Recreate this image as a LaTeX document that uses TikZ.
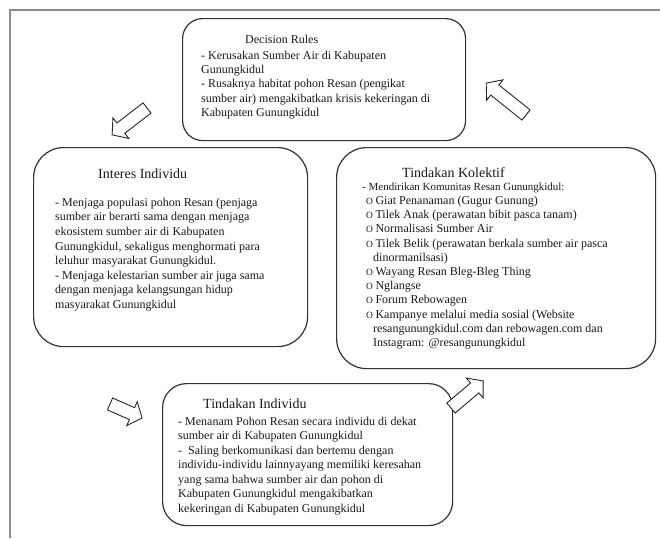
\documentclass[tikz,border=0pt]{standalone}
\usepackage{fontspec}
\setmainfont{Liberation Serif}
\newcommand{\bul}{{\fontsize{9.5}{10}\selectfont O}\hspace{2.5pt}}
\begin{document}
\begin{tikzpicture}[x=1pt,y=-1pt,
  frame/.style={draw=black!45, line width=2pt},
  box/.style={draw=black!80, line width=1.2pt, inner sep=0pt, anchor=north west},
  body/.style={anchor=north west, inner sep=0pt, align=left, text=black!90},
  ttl/.style={anchor=base west, inner sep=0pt, text=black!90, font=\fontsize{14}{16}\selectfont},
  blockarrow/.style={draw=black!85, fill=white, line width=0.9pt, line join=miter},
  barrow/.pic={\draw[blockarrow] (0,-6.5) -- (#1-11,-6.5) -- (#1-11,-13) -- (#1,0) -- (#1-11,13) -- (#1-11,6.5) -- (0,6.5) -- cycle;}]
\useasboundingbox (0,0) rectangle (660,538);
\fill[white] (0,0) rectangle (660,538);
\draw[frame] (10,538) -- (10,10) -- (661,10);

% boxes
\node[box, rounded corners=20pt, minimum width=283pt, minimum height=122pt] (dr) at (182,18) {};
\node[box, rounded corners=30pt, minimum width=274pt, minimum height=199pt] (ii) at (33,147) {};
\node[box, rounded corners=30pt, minimum width=319pt, minimum height=221pt] (tk) at (336,147) {};
\node[box, rounded corners=24pt, minimum width=290pt, minimum height=142pt] (ti) at (162,383) {};

% Decision Rules
\node[ttl, font=\fontsize{12}{14}\selectfont] (drt) at (245,43) {Decision Rules};
\node[body, font=\fontsize{12}{14.3}\selectfont] (drb) at (201,50) {\rule{0pt}{9pt}- Kerusakan Sumber Air di Kabupaten\\
Gunungkidul\\
- Rusaknya habitat pohon Resan (pengikat\\
sumber air) mengakibatkan krisis kekeringan di\\
Kabupaten Gunungkidul};

% Interes Individu
\node[ttl] (iit) at (98,178) {Interes Individu};
\node[body, font=\fontsize{12}{14.6}\selectfont] (iib) at (55,197) {\rule{0pt}{9pt}- Menjaga populasi pohon Resan (penjaga\\
sumber air berarti sama dengan menjaga\\
ekosistem sumber air di Kabupaten\\
Gunungkidul, sekaligus menghormati para\\
leluhur masyarakat Gunungkidul.\\
- Menjaga kelestarian sumber air juga sama\\
dengan menjaga kelangsungan hidup\\
masyarakat Gunungkidul};

% Tindakan Kolektif
\node[ttl] (tkt) at (402,177) {Tindakan Kolektif};
\node[body, font=\fontsize{12}{14.2}\selectfont] (tkb) at (362,181) {\rule{0pt}{9pt}{\fontsize{11}{12}\selectfont - Mendirikan Komunitas Resan Gunungkidul:}\\
\hspace*{4pt}\bul Giat Penanaman (Gugur Gunung)\\
\hspace*{4pt}\bul Tilek Anak (perawatan bibit pasca tanam)\\
\hspace*{4pt}\bul Normalisasi Sumber Air\\
\hspace*{4pt}\bul Tilek Belik (perawatan berkala sumber air pasca\\
\hspace*{11pt}dinormanilsasi)\\
\hspace*{4pt}\bul Wayang Resan Bleg-Bleg Thing\\
\hspace*{4pt}\bul Nglangse\\
\hspace*{4pt}\bul Forum Rebowagen\\
\hspace*{4pt}\bul Kampanye melalui media sosial (Website\\
\hspace*{11pt}resangunungkidul.com dan rebowagen.com dan\\
\hspace*{11pt}Instagram: @resangunungkidul};

% Tindakan Individu
\node[ttl] (tit) at (203,408) {Tindakan Individu};
\node[body, font=\fontsize{12}{14.5}\selectfont] (tib) at (178,416) {\rule{0pt}{9pt}- Menanam Pohon Resan secara individu di dekat\\
sumber air di Kabupaten Gunungkidul\\
-\ \ Saling berkomunikasi dan bertemu dengan\\
individu-individu lainnyayang memiliki keresahan\\
yang sama bahwa sumber air dan pohon di\\
Kabupaten Gunungkidul mengakibatkan\\
kekeringan di Kabupaten Gunungkidul};

% block arrows
\pic[rotate=217.6] at (147,108) {barrow=44};
\pic[rotate=141.3] at (526,115) {barrow=51};
\pic[rotate=-23.6] at (110,404) {barrow=35};
\pic[rotate=40.2] at (451,408) {barrow=42};
\end{tikzpicture}
\end{document}
